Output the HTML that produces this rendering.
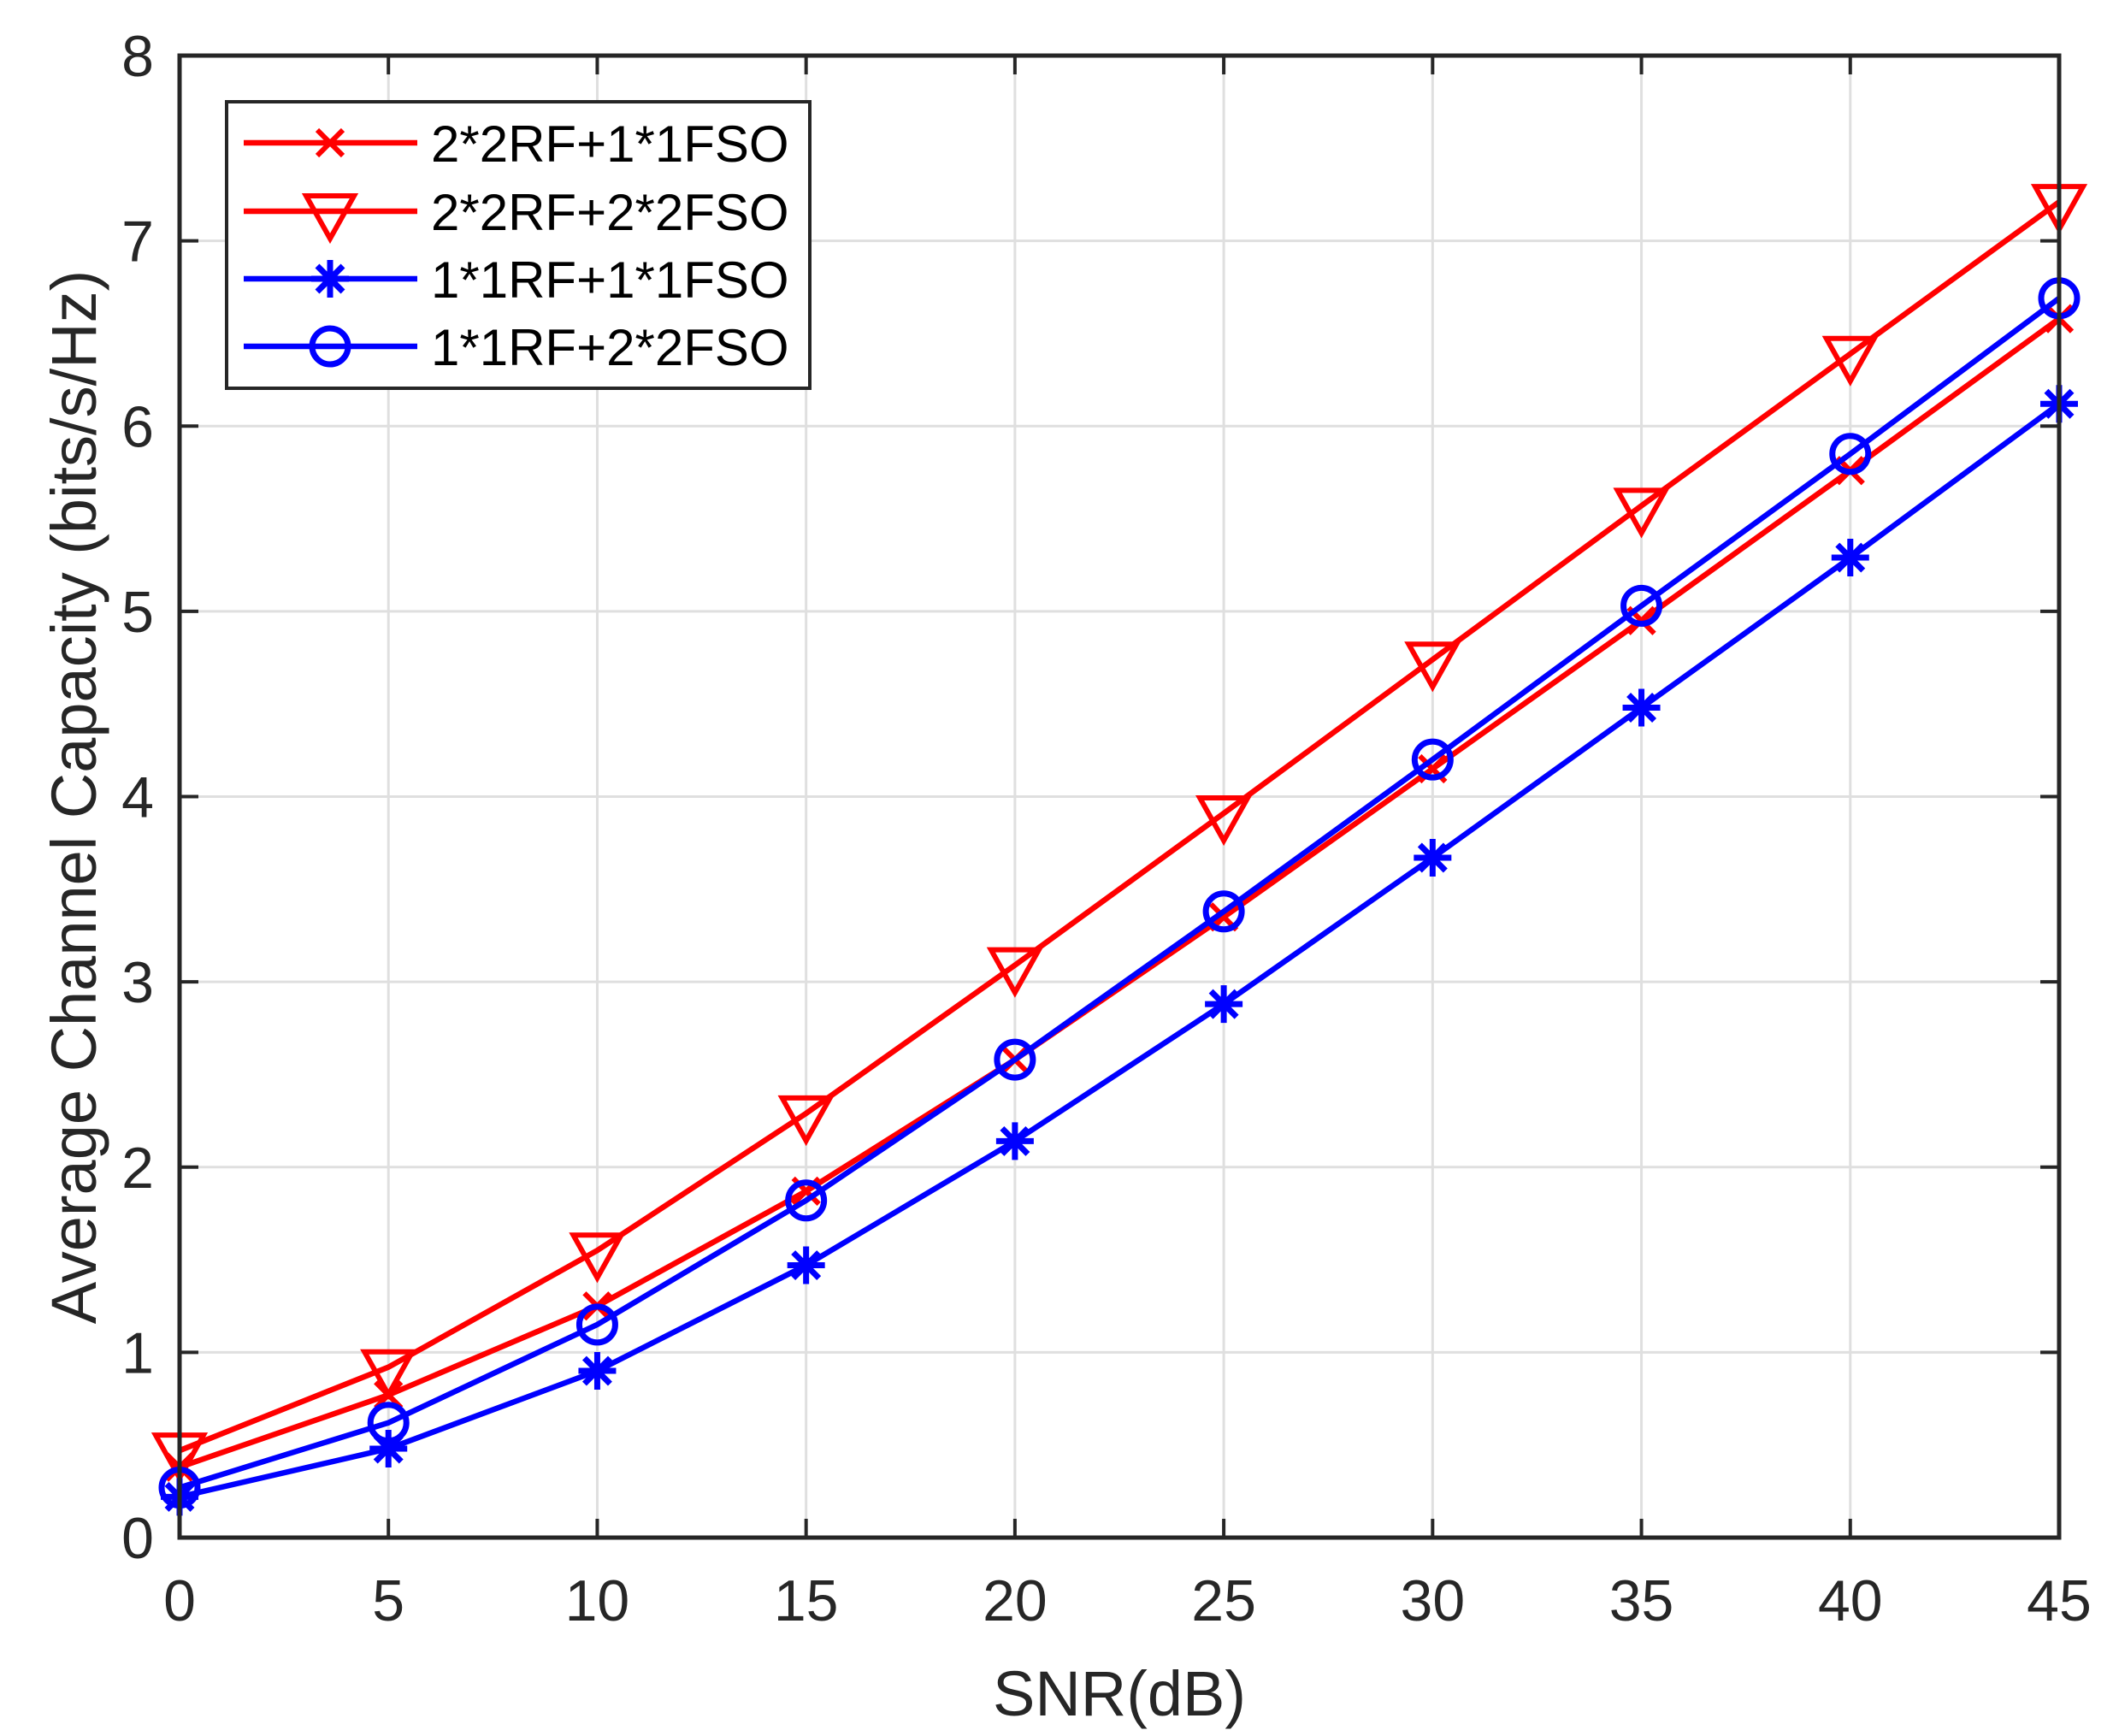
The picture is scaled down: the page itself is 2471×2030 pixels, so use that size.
<!DOCTYPE html>
<html><head><style>body{margin:0;background:#fff}svg{display:block}</style></head><body>
<svg width="2471" height="2030" xmlns="http://www.w3.org/2000/svg" font-family="Liberation Sans, Arial, sans-serif">
<defs>
<g id="mx"><path d="M-15,-15L15,15M-15,15L15,-15" stroke="#f00" stroke-width="6" fill="none"/></g>
<g id="mt"><path d="M-28,-18L28,-18L0,32Z" stroke="#f00" stroke-width="6" fill="none"/></g>
<g id="ms"><path d="M0,-22V22M-22,0H22M-15,-15L15,15M-15,15L15,-15" stroke="#00f" stroke-width="7" fill="none"/></g>
<g id="mc"><circle r="21" stroke="#00f" stroke-width="7" fill="none"/></g>
</defs>
<g id="grid" stroke="#dfdfdf" stroke-width="3"></g>
<g id="plot"></g>
<g id="axes"></g>
<g id="legend"></g>
<script>
var L=210,R=2408,T=65,B=1798;
function X(v){return L+(R-L)*v/45}function Y(v){return B-(B-T)*v/8}
var ns="http://www.w3.org/2000/svg";
function el(p,t,a,txt){var e=document.createElementNS(ns,t);for(var k in a)e.setAttribute(k,a[k]);if(txt!=null)e.textContent=txt;document.getElementById(p).appendChild(e);return e}
for(var i=1;i<9;i++)el('grid','line',{x1:X(i*5),x2:X(i*5),y1:T,y2:B});
for(var i=1;i<8;i++)el('grid','line',{x1:L,x2:R,y1:Y(i),y2:Y(i)});
var S=[["#f00","mx",[0.38,0.77,1.25,1.87,2.58,3.35,4.15,4.95,5.76,6.58]],
["#f00","mt",[0.47,0.92,1.55,2.29,3.09,3.91,4.74,5.57,6.39,7.21]],
["#00f","ms",[0.22,0.48,0.90,1.47,2.14,2.88,3.67,4.48,5.29,6.12]],
["#00f","mc",[0.27,0.62,1.15,1.82,2.58,3.38,4.20,5.03,5.85,6.69]]];
S.forEach(function(s){var pts=s[2].map(function(v,i){return X(i*5)+","+Y(v)}).join(" ");
el('plot','polyline',{points:pts,fill:"none",stroke:s[0],"stroke-width":6.5});
s[2].forEach(function(v,i){el('plot','use',{href:"#"+s[1],x:X(i*5),y:Y(v)})})});
el('axes','rect',{x:L,y:T,width:R-L,height:B-T,fill:"none",stroke:"#262626","stroke-width":5});
for(var i=0;i<=9;i++){var x=X(i*5);el('axes','line',{x1:x,x2:x,y1:B,y2:B-22,stroke:"#262626","stroke-width":4});el('axes','line',{x1:x,x2:x,y1:T,y2:T+22,stroke:"#262626","stroke-width":4});
el('axes','text',{x:x,y:1895,"text-anchor":"middle","font-size":68,fill:"#262626"},String(i*5))}
for(var i=0;i<=8;i++){var y=Y(i);el('axes','line',{x1:L,x2:L+22,y1:y,y2:y,stroke:"#262626","stroke-width":4});el('axes','line',{x1:R,x2:R-22,y1:y,y2:y,stroke:"#262626","stroke-width":4});
el('axes','text',{x:180,y:y+24,"text-anchor":"end","font-size":68,fill:"#262626"},String(i))}
el('axes','text',{x:1309,y:2006,"text-anchor":"middle","font-size":74,fill:"#262626"},"SNR(dB)");
el('axes','text',{x:0,y:0,"text-anchor":"middle","font-size":74,fill:"#262626",transform:"translate(112,932) rotate(-90)"},"Average Channel Capacity (bits/s/Hz)");
el('legend','rect',{x:265,y:119,width:682,height:335,fill:"#fff",stroke:"#262626","stroke-width":4});
var names=["2*2RF+1*1FSO","2*2RF+2*2FSO","1*1RF+1*1FSO","1*1RF+2*2FSO"],ly=[167,247,326,405];
S.forEach(function(s,i){el('legend','line',{x1:285,x2:488,y1:ly[i],y2:ly[i],stroke:s[0],"stroke-width":6.5});
el('legend','use',{href:"#"+s[1],x:386,y:ly[i]});
el('legend','text',{x:504,y:ly[i]+22,"font-size":60,fill:"#000"},names[i])});
</script>
</svg>
</body></html>
